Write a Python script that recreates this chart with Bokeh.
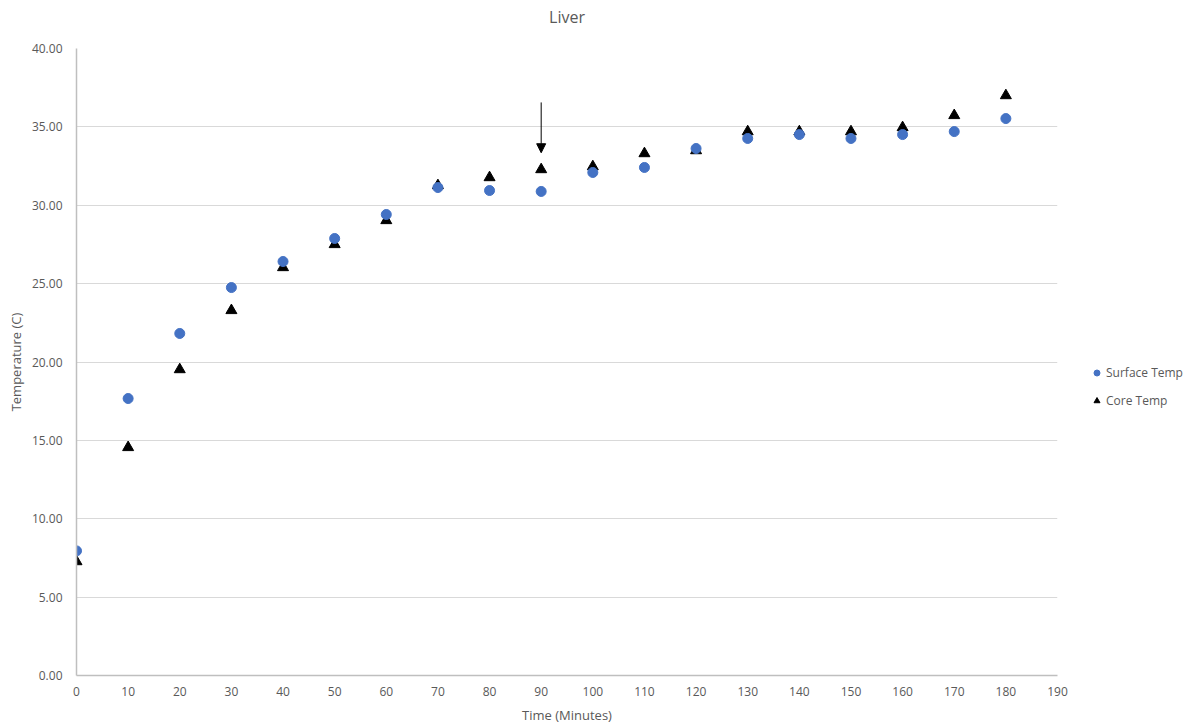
from bokeh.plotting import figure
from bokeh.models import Legend, LegendItem, Arrow, NormalHead, FixedTicker, CustomJSTickFormatter, Range1d
from bokeh.embed import file_html
from bokeh.resources import INLINE

time_min = [0, 10, 20, 30, 40, 50, 60, 70, 80, 90, 100, 110, 120, 130, 140, 150, 160, 170, 180]
surface_temp = [7.95, 17.67, 21.82, 24.75, 26.41, 27.88, 29.41, 31.13, 30.94, 30.88, 32.09, 32.41, 33.62, 34.26, 34.51, 34.26, 34.51, 34.70, 35.53]
core_temp = [7.27, 14.55, 19.52, 23.29, 26.03, 27.50, 29.03, 31.26, 31.77, 32.28, 32.47, 33.30, 33.49, 34.70, 34.70, 34.70, 34.96, 35.73, 37.00]
x_ticks = list(range(0, 200, 10))
y_ticks = [0, 5, 10, 15, 20, 25, 30, 35, 40]
arrow_x = 90
arrow_y_start = 36.56
arrow_y_end = 33.35

FONT = "Open Sans"
GREY = "#595959"

p = figure(frame_width=981, frame_height=627, output_backend="svg", toolbar_location=None,
           x_range=Range1d(0, 190), y_range=Range1d(0, 40),
           min_border_left=76, min_border_right=0, min_border_top=48, min_border_bottom=40,
           title="Liver")
p.outline_line_color = None
p.background_fill_color = "white"
p.border_fill_color = "white"

p.title.align = "center"
p.title.vertical_align = "top"
p.title.text_font = FONT
p.title.text_font_size = "16px"
p.title.text_font_style = "normal"
p.title.text_color = GREY
p.title.standoff = 0
p.title.padding = dict(left=0, right=0, top=0, bottom=19)

p.xgrid.grid_line_color = None
p.ygrid.grid_line_color = "#d9d9d9"
p.ygrid.grid_line_width = 1

for ax in (p.xaxis[0], p.yaxis[0]):
    ax.axis_line_color = "#bfbfbf"
    ax.axis_line_width = 1.5
    ax.major_tick_line_color = None
    ax.minor_tick_line_color = None
    ax.major_label_text_font = FONT
    ax.major_label_text_font_size = "12px"
    ax.major_label_text_color = GREY
    ax.axis_label_text_font = FONT
    ax.axis_label_text_font_size = "13px"
    ax.axis_label_text_font_style = "normal"
    ax.axis_label_text_color = GREY

p.xaxis.ticker = FixedTicker(ticks=x_ticks)
p.yaxis.ticker = FixedTicker(ticks=y_ticks)
p.yaxis.formatter = CustomJSTickFormatter(code="return tick.toFixed(2);")
p.xaxis.axis_label = "Time (Minutes)"
p.yaxis.axis_label = "Temperature (C)"
p.xaxis.major_label_standoff = 5
p.yaxis.major_label_standoff = 8
p.xaxis.axis_label_standoff = 7
p.yaxis.axis_label_standoff = 4

r_core = p.scatter(time_min, core_temp, marker="triangle", size=11, color="black")
r_surf = p.scatter(time_min, surface_temp, marker="circle", size=10, color="#4472C4")

p.add_layout(Arrow(end=NormalHead(size=9, fill_color="black", line_color="black"),
                   x_start=arrow_x, y_start=arrow_y_start, x_end=arrow_x, y_end=arrow_y_end,
                   line_color="black", line_width=1))

legend = Legend(items=[LegendItem(label="Surface Temp", renderers=[r_surf]),
                       LegendItem(label="Core Temp", renderers=[r_core])],
                location=(32, 266), border_line_color=None, background_fill_alpha=0,
                label_text_font=FONT, label_text_font_size="12px", label_text_color=GREY,
                glyph_width=15, glyph_height=15, label_standoff=2, spacing=11, padding=0, margin=0)
p.add_layout(legend, "right")

open("out.html", "w").write(file_html(p, INLINE))
